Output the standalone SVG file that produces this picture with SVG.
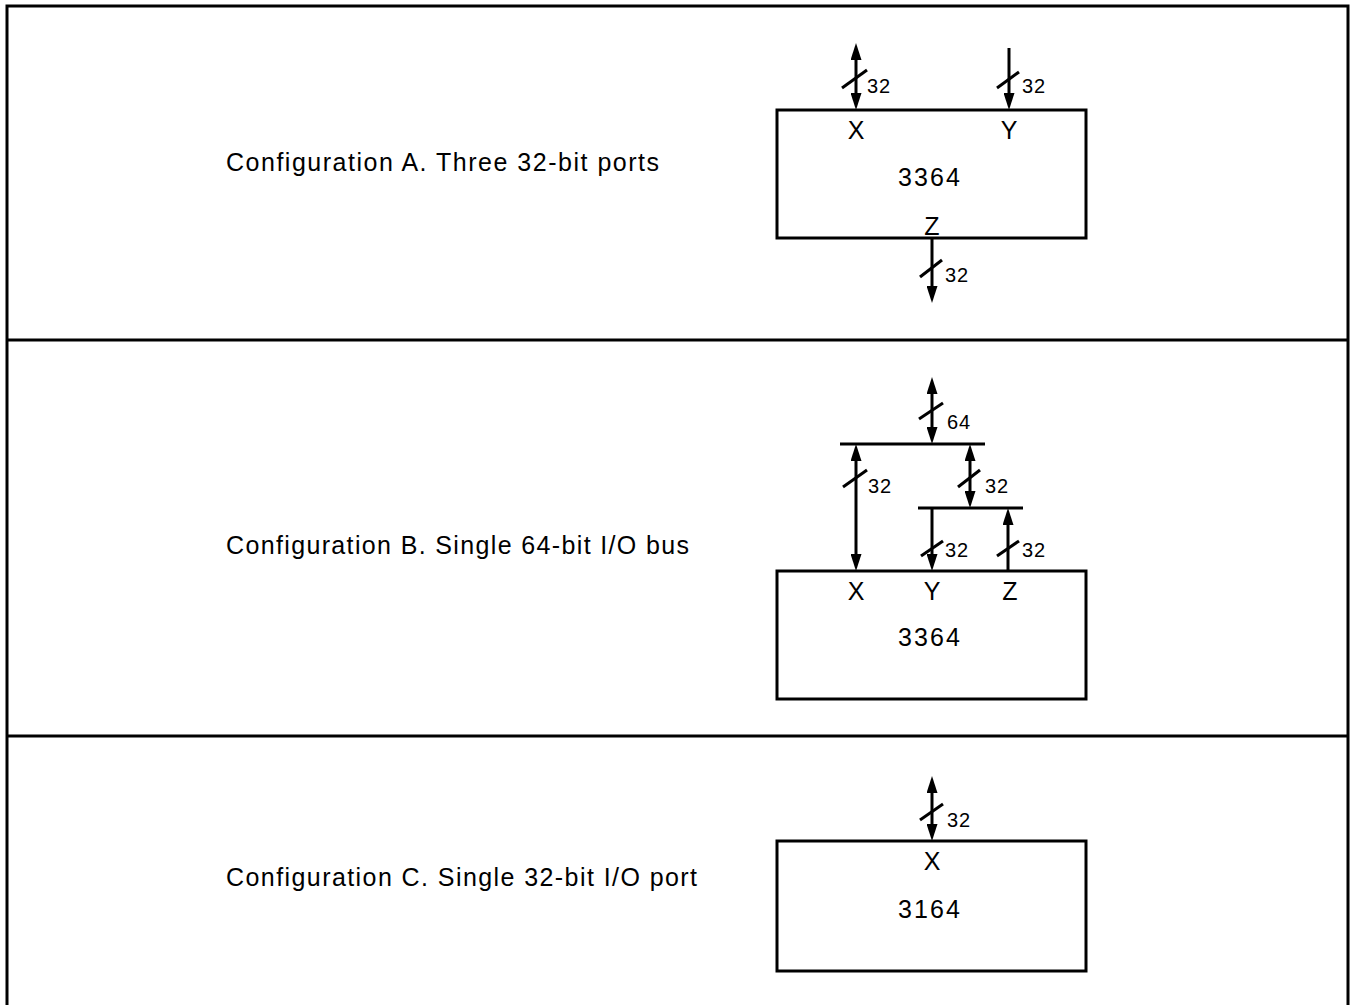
<svg xmlns="http://www.w3.org/2000/svg" width="1350" height="1005" viewBox="0 0 1350 1005">
<defs>
<marker id="ah" markerUnits="userSpaceOnUse" viewBox="0 0 17 11" markerWidth="17" markerHeight="11" refX="8" refY="5.5" orient="auto-start-reverse">
<path d="M0,0 L17,5.5 L0,11 z" fill="#000"/>
</marker>
<style>
.frame{fill:none;stroke:#000;stroke-width:3}
.box{fill:none;stroke:#000;stroke-width:3}
.w{stroke:#000;stroke-width:3;fill:none}
.tick{stroke:#000;stroke-width:3}
.cap{font-family:"Liberation Sans",Arial,sans-serif;font-size:25px;fill:#000}
.lbl{font-family:"Liberation Sans",Arial,sans-serif;font-size:25px;fill:#000;text-anchor:middle}
.num{font-family:"Liberation Sans",Arial,sans-serif;font-size:20px;fill:#000}
</style>
</defs>
<g id="frame">
<path class="frame" d="M7,1005 V6 H1348 V1005"/>
<line class="frame" x1="7" y1="340" x2="1348" y2="340"/>
<line class="frame" x1="7" y1="736" x2="1348" y2="736"/>
</g>
<text class="cap" x="226" y="171" textLength="433" lengthAdjust="spacing">Configuration A. Three 32-bit ports</text>
<text class="cap" x="226" y="554" textLength="463" lengthAdjust="spacing">Configuration B. Single 64-bit I/O bus</text>
<text class="cap" x="226" y="886" textLength="471" lengthAdjust="spacing">Configuration C. Single 32-bit I/O port</text>
<g id="boxA">
<rect class="box" x="777" y="110" width="309" height="128"/>
<text class="lbl" x="856" y="139">X</text>
<text class="lbl" x="1009" y="139">Y</text>
<text class="lbl" x="929" y="186" textLength="62" lengthAdjust="spacing">3364</text>
<text class="lbl" x="932" y="235">Z</text>
</g>
<g id="boxB">
<rect class="box" x="777" y="571" width="309" height="128"/>
<text class="lbl" x="856" y="600">X</text>
<text class="lbl" x="932" y="600">Y</text>
<text class="lbl" x="1010" y="600">Z</text>
<text class="lbl" x="929" y="646" textLength="62" lengthAdjust="spacing">3364</text>
</g>
<g id="boxC">
<rect class="box" x="777" y="841" width="309" height="130"/>
<text class="lbl" x="932" y="870">X</text>
<text class="lbl" x="929" y="918" textLength="62" lengthAdjust="spacing">3164</text>
</g>
<g id="connectors">
<!-- A -->
<line class="w" x1="856" y1="52" x2="856" y2="101" marker-start="url(#ah)" marker-end="url(#ah)"/>
<line class="tick" x1="842" y1="88" x2="867" y2="70"/>
<text class="num" x="867" y="93" textLength="23" lengthAdjust="spacing">32</text>
<line class="w" x1="1009" y1="48" x2="1009" y2="101" marker-end="url(#ah)"/>
<line class="tick" x1="997" y1="88" x2="1019" y2="72"/>
<text class="num" x="1022" y="93" textLength="23" lengthAdjust="spacing">32</text>
<line class="w" x1="932" y1="238" x2="932" y2="294" marker-end="url(#ah)"/>
<line class="tick" x1="920" y1="277" x2="942" y2="260"/>
<text class="num" x="945" y="282" textLength="23" lengthAdjust="spacing">32</text>
<!-- B -->
<line class="w" x1="932" y1="386" x2="932" y2="435" marker-start="url(#ah)" marker-end="url(#ah)"/>
<line class="tick" x1="919" y1="419" x2="943" y2="403"/>
<text class="num" x="947" y="429" textLength="23" lengthAdjust="spacing">64</text>
<line class="w" x1="840" y1="444" x2="985" y2="444"/>
<line class="w" x1="856" y1="453" x2="856" y2="562" marker-start="url(#ah)" marker-end="url(#ah)"/>
<line class="tick" x1="843" y1="487" x2="867" y2="470"/>
<text class="num" x="868" y="493" textLength="23" lengthAdjust="spacing">32</text>
<line class="w" x1="970" y1="453" x2="970" y2="499" marker-start="url(#ah)" marker-end="url(#ah)"/>
<line class="tick" x1="958" y1="487" x2="980" y2="470"/>
<text class="num" x="985" y="493" textLength="23" lengthAdjust="spacing">32</text>
<line class="w" x1="918" y1="508" x2="1023" y2="508"/>
<line class="w" x1="932" y1="508" x2="932" y2="562" marker-end="url(#ah)"/>
<line class="tick" x1="921" y1="556" x2="943" y2="541"/>
<text class="num" x="945" y="557" textLength="23" lengthAdjust="spacing">32</text>
<line class="w" x1="1008" y1="571" x2="1008" y2="517" marker-end="url(#ah)"/>
<line class="tick" x1="997" y1="556" x2="1019" y2="541"/>
<text class="num" x="1022" y="557" textLength="23" lengthAdjust="spacing">32</text>
<!-- C -->
<line class="w" x1="932" y1="785" x2="932" y2="832" marker-start="url(#ah)" marker-end="url(#ah)"/>
<line class="tick" x1="920" y1="820" x2="943" y2="804"/>
<text class="num" x="947" y="827" textLength="23" lengthAdjust="spacing">32</text>
</g>
</svg>
